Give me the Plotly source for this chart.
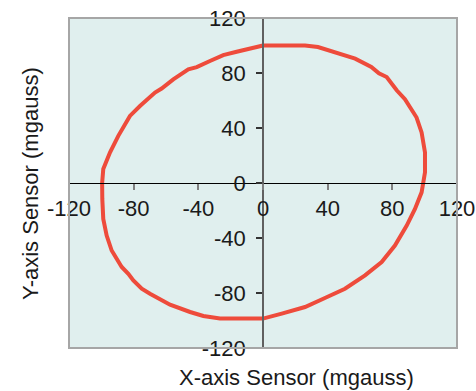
import plotly.graph_objects as go

x_sensor = [0, 26, 34, 44.5, 57, 67, 71.7, 76.5, 82.7, 87.8, 95, 98.1, 100.2, 100.2, 99.2,
            98.1, 94, 88.9, 81.6, 73.4, 63.1, 50.7, 38.3, 26, 11.6, 0, -26.6, -36.9, -45.1,
            -57.5, -69.9, -75, -80.2, -83.3, -87.4, -93.6, -96.7, -98.8, -99.4, -99.5, -98.8,
            -94.6, -89.5, -82.3, -76.1, -66.8, -62.7, -55.5, -46.2, -41, -32.8, -24.6, -16.3,
            -6, 0]
y_sensor = [100, 100, 98.9, 94.8, 90.4, 84.4, 79.8, 77.1, 67.4, 60.9, 47.6, 36.8, 22.3, 7.8, -2,
            -6.8, -18.9, -31, -45.5, -57.5, -67.2, -76.9, -83.6, -90.2, -95, -98.6, -98.6, -96.7,
            -93.8, -88.5, -80.5, -76.9, -70.8, -66, -61.1, -49.1, -38.2, -26.1, -11.6, 0, 10.2,
            22.3, 34.3, 48.8, 56, 65.8, 68.7, 75.4, 82.7, 84.3, 88.7, 93, 95.5, 98.8, 100]

tick_vals = [-120, -80, -40, 0, 40, 80, 120]
tick_text = ["-120", "-80", "-40", "0", "40", "80", "120"]
x_title = "X-axis Sensor (mgauss)"
y_title = "Y-axis Sensor (mgauss)"

FONT = "Liberation Sans, Arial, sans-serif"
FS = 22

fig = go.Figure()
fig.add_trace(go.Scatter(x=x_sensor, y=y_sensor, mode="lines",
                         line=dict(color="#EE4B3B", width=4), showlegend=False,
                         hoverinfo="skip"))

fig.update_layout(
    width=476, height=391,
    margin=dict(l=69, r=19, t=18, b=43),
    paper_bgcolor="white",
    plot_bgcolor="#e0efee",
    font=dict(family=FONT, size=FS, color="#1a1a1a"),
    xaxis=dict(range=[-120, 120], tickvals=tick_vals, ticktext=tick_text, automargin=False,
               showgrid=False, zeroline=False, showline=True, linecolor="black", linewidth=1,
               anchor="free", position=0.5, ticks="outside", ticklen=6, tickcolor="#808080",
               tickwidth=1.5, tickfont=dict(size=FS, family=FONT, color="#1a1a1a")),
    yaxis=dict(range=[-120, 120], tickvals=tick_vals,
               ticktext=[t + "\u00a0" for t in tick_text],
               automargin=False,
               showgrid=False, zeroline=False, showline=True, linecolor="#606060", linewidth=1.5,
               anchor="free", position=0.5, ticks="outside", ticklen=6, tickcolor="#333333",
               tickwidth=1.5, tickfont=dict(size=FS, family=FONT, color="#1a1a1a")),
    shapes=[dict(type="rect", xref="paper", yref="paper", x0=0, y0=0, x1=1, y1=1,
                 line=dict(color="#a6a6a6", width=2), layer="above")],
    annotations=[
        dict(text=x_title, xref="paper", yref="paper", x=(296 - 69) / 388, y=-29 / 330,
             xanchor="center", yanchor="middle", showarrow=False,
             font=dict(size=FS, family=FONT, color="#1a1a1a")),
        dict(text=y_title, xref="paper", yref="paper", x=-39 / 388, y=(348 - 184) / 330,
             xanchor="center", yanchor="middle", showarrow=False, textangle=-90,
             font=dict(size=FS, family=FONT, color="#1a1a1a")),
    ],
)

fig.write_html("out.html")
